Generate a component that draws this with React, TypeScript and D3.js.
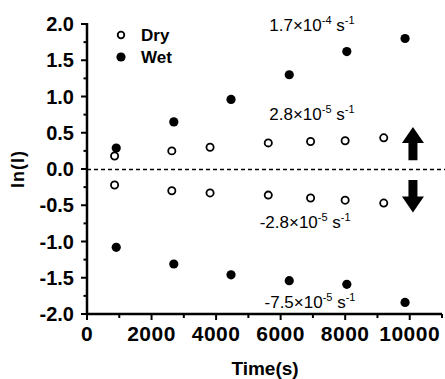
import React from "react";
import * as d3 from "d3";

// values
const wetTimes = [906, 2690, 4463, 6267, 8051, 9855];
const wetUp = [0.29, 0.65, 0.96, 1.3, 1.62, 1.8];
const wetDown = [-1.08, -1.31, -1.46, -1.54, -1.59, -1.84];

const dryTimes = [855, 2628, 3813, 5617, 6928, 7999, 9195];
const dryUp = [0.18, 0.25, 0.3, 0.36, 0.38, 0.39, 0.43];
const dryDown = [-0.22, -0.3, -0.33, -0.36, -0.4, -0.43, -0.47];

const xTicks = [0, 2000, 4000, 6000, 8000, 10000];
const yTicks = [-2, -1.5, -1, -0.5, 0, 0.5, 1, 1.5, 2];

const rates = [
  { base: "1.7×10", exp: "-4", t: 6970, v: 1.9 },
  { base: "2.8×10", exp: "-5", t: 6970, v: 0.676 },
  { base: "-2.8×10", exp: "-5", t: 6760, v: -0.814 },
  { base: "-7.5×10", exp: "-5", t: 6910, v: -1.917 },
];

const W = 445;
const H = 379;
const font = "Arial, 'Liberation Sans', sans-serif";

const App = () => {
  const x = d3.scaleLinear().domain([0, 11000]).range([87, 442]);
  const y = d3.scaleLinear().domain([-2, 2]).range([314, 24]);

  const xMinor = d3.range(0, 11001, 1000);
  const yMinor = d3.range(-2, 2.001, 0.25);
  const fmt = (v: number) => d3.format(".1f")(v).replace("−", "-");

  const ax = x(10100);
  const upPath = `M${ax},${y(0.58)} L${ax + 11},${y(0.58) + 16} L${ax + 4.5},${y(0.58) + 16} L${ax + 4.5},${y(0.12)} L${ax - 4.5},${y(0.12)} L${ax - 4.5},${y(0.58) + 16} L${ax - 11},${y(0.58) + 16} Z`;
  const downPath = `M${ax},${y(-0.6)} L${ax + 11},${y(-0.6) - 16} L${ax + 4.5},${y(-0.6) - 16} L${ax + 4.5},${y(-0.15)} L${ax - 4.5},${y(-0.15)} L${ax - 4.5},${y(-0.6) - 16} L${ax - 11},${y(-0.6) - 16} Z`;

  return (
    <div style={{ position: "fixed", left: 0, top: 0 }}>
      <svg width={W} height={H} style={{ display: "block", background: "#fff" }} fontFamily={font}>
        {/* zero line */}
        <line x1={x(0)} x2={W} y1={y(0) + 0.5} y2={y(0) + 0.5} stroke="#000" strokeWidth={1.4} strokeDasharray="4,3" />

        {/* y axis */}
        <line x1={x(0)} x2={x(0)} y1={y(2) - 1} y2={y(-2) + 1} stroke="#000" strokeWidth={2.5} />
        {yMinor.map((v, i) => (
          <line key={"ym" + i} x1={x(0) - (i % 2 === 0 ? 6 : 3.5)} x2={x(0)} y1={y(v)} y2={y(v)} stroke="#000" strokeWidth={2} />
        ))}
        {yTicks.map((v) => (
          <text key={"yt" + v} x={74} y={y(v) + 7} textAnchor="end" fontSize={20} fontWeight="bold">
            {fmt(v)}
          </text>
        ))}

        {/* x axis */}
        <line x1={x(0) - 1} x2={x(11000)} y1={y(-2)} y2={y(-2)} stroke="#000" strokeWidth={2.5} />
        {xMinor.map((v, i) => (
          <line key={"xm" + i} x1={x(v)} x2={x(v)} y1={y(-2)} y2={y(-2) + (i % 2 === 0 ? 6 : 4)} stroke="#000" strokeWidth={2} />
        ))}
        {xTicks.map((v) => (
          <text key={"xt" + v} x={x(v)} y={341} textAnchor="middle" fontSize={21} fontWeight="bold" letterSpacing={0.5}>
            {v}
          </text>
        ))}

        {/* axis titles */}
        <text x={265} y={375} textAnchor="middle" fontSize={19} fontWeight="bold">Time(s)</text>
        <text transform={`translate(24,${y(0)}) rotate(-90)`} textAnchor="middle" fontSize={18} fontWeight="bold" letterSpacing={1}>
          ln(I)
        </text>

        {/* wet points */}
        {wetTimes.map((t, i) => (
          <g key={"w" + i}>
            <circle cx={x(t)} cy={y(wetUp[i])} r={4.6} fill="#000" />
            <circle cx={x(t)} cy={y(wetDown[i])} r={4.6} fill="#000" />
          </g>
        ))}

        {/* dry points */}
        {dryTimes.map((t, i) => (
          <g key={"d" + i}>
            <circle cx={x(t)} cy={y(dryUp[i])} r={3.6} fill="#fff" stroke="#000" strokeWidth={1.8} />
            <circle cx={x(t)} cy={y(dryDown[i])} r={3.6} fill="#fff" stroke="#000" strokeWidth={1.8} />
          </g>
        ))}

        {/* rate labels */}
        {rates.map((r, i) => (
          <text key={"r" + i} x={x(r.t)} y={y(r.v)} textAnchor="middle" fontSize={17}>
            {r.base}
            <tspan fontSize={11} dy={-7}>{r.exp}</tspan>
            <tspan dy={7}> s</tspan>
            <tspan fontSize={11} dy={-7}>-1</tspan>
          </text>
        ))}

        {/* arrows */}
        <path d={upPath} fill="#000" />
        <path d={downPath} fill="#000" />

        {/* legend */}
        <circle cx={121} cy={35} r={3.3} fill="#fff" stroke="#000" strokeWidth={1.8} />
        <text x={141} y={41} fontSize={17} fontWeight="bold">Dry</text>
        <circle cx={121} cy={57} r={4.6} fill="#000" />
        <text x={141} y={63} fontSize={17} fontWeight="bold">Wet</text>
      </svg>
    </div>
  );
};

export default App;
